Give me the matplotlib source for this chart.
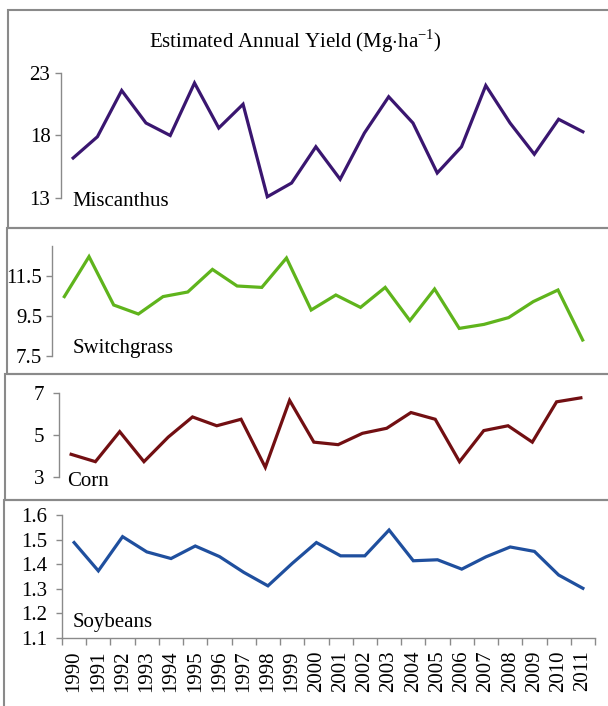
import matplotlib.pyplot as plt
from matplotlib.patches import Rectangle
import numpy as np

plt.rcParams['font.family'] = ['Liberation Serif', 'DejaVu Serif']
plt.rcParams['mathtext.fontset'] = 'custom'
plt.rcParams['mathtext.rm'] = 'Liberation Serif'

years = [str(y) for y in range(1990, 2012)]

miscanthus = [16.2, 17.9, 21.6, 19.0, 18.0, 22.2, 18.6, 20.5, 13.1, 14.2, 17.1,
              14.5, 18.2, 21.1, 19.0, 15.0, 17.1, 22.0, 19.0, 16.5, 19.3, 18.3]
switchgrass = [10.47, 12.47, 10.05, 9.6, 10.47, 10.7, 11.83, 11.0, 10.93, 12.4, 9.8,
               10.55, 9.93, 10.93, 9.27, 10.85, 8.88, 9.08, 9.42, 10.22, 10.8, 8.3]
corn = [4.08, 3.73, 5.16, 3.73, 4.9, 5.86, 5.44, 5.75, 3.46, 6.65, 4.66,
        4.54, 5.08, 5.32, 6.07, 5.75, 3.73, 5.21, 5.44, 4.66, 6.58, 6.77]
soybeans = [1.488, 1.373, 1.512, 1.45, 1.423, 1.474, 1.431, 1.367, 1.312, 1.403, 1.488,
            1.434, 1.434, 1.539, 1.414, 1.418, 1.38, 1.43, 1.47, 1.452, 1.356, 1.302]

crops = ['Miscanthus', 'Switchgrass', 'Corn', 'Soybeans']
series = [miscanthus, switchgrass, corn, soybeans]
colors = ['#3a1670', '#5fb41c', '#720f12', '#1f4f9e']
ylims = [(13, 23), (7.5, 13), (3, 7), (1.1, 1.6)]
yticks = [[13, 18, 23], [7.5, 9.5, 11.5], [3, 5, 7], [1.1, 1.2, 1.3, 1.4, 1.5, 1.6]]
ytick_labels = [['13', '18', '23'], ['7.5', '9.5', '11.5'], ['3', '5', '7'],
                ['1.1', '1.2', '1.3', '1.4', '1.5', '1.6']]

W, H = 608, 706
fig = plt.figure(figsize=(W / 100, H / 100), dpi=100)


def fx(x):
    return x / W


def fy(y):
    return 1 - y / H


# axes extents in pixels: left, right, top, bottom
ax_px = [(61, 595, 73, 198), (52, 595, 246, 356), (59, 593, 393, 477), (62, 595, 515, 638)]
label_pos = [(72, 201), (73, 349), (67, 481), (73, 622)]
pads = [3.6, 3.0, 6.5, 6.5]
boxes = [(8, 10, 228), (7, 228, 374), (5, 374, 500), (4, 500, 760)]
gray = '#8a8a8a'

for x0, y0, y1 in boxes:
    fig.add_artist(Rectangle((fx(x0), fy(y1)), 1.2, (y1 - y0) / H, transform=fig.transFigure,
                             fill=False, edgecolor=gray, linewidth=1.5, clip_on=False))

x = np.arange(len(years))
for i in range(4):
    l, r, t, b = ax_px[i]
    ax = fig.add_axes([fx(l), fy(b), (r - l) / W, (b - t) / H])
    ax.patch.set_visible(False)
    ax.plot(x, series[i], color=colors[i], linewidth=2.3, solid_joinstyle='miter', clip_on=False)
    ax.set_xlim(-0.5, len(years) - 0.5)
    ax.set_ylim(*ylims[i])
    ax.set_yticks(yticks[i])
    ax.set_yticklabels(ytick_labels[i])
    ax.tick_params(axis='y', direction='out', length=4, width=1, color=gray,
                   labelsize=15, pad=pads[i])
    for s in ['top', 'right']:
        ax.spines[s].set_visible(False)
    ax.spines['left'].set_color(gray)
    ax.spines['left'].set_linewidth(1)
    if i < 3:
        ax.spines['bottom'].set_visible(False)
        ax.set_xticks([])
    else:
        ax.spines['bottom'].set_color(gray)
        ax.spines['bottom'].set_linewidth(1)
        ax.set_xticks(x)
        ax.set_xticklabels(years, rotation=90)
        ax.set_xticks(np.arange(-0.5, len(years)), minor=True)
        ax.tick_params(axis='x', which='major', length=0, labelsize=15, pad=9)
        ax.tick_params(axis='x', which='minor', direction='out', length=5, width=1, color=gray)
    fig.text(fx(label_pos[i][0]), fy(label_pos[i][1]), crops[i], fontsize=15,
             ha='left', va='center')

fig.text(fx(295), fy(41), 'Estimated Annual Yield (Mg$\\cdot$ha$^{-1}$)', fontsize=15,
         ha='center', va='center')

fig.savefig('out.png', dpi=100)
